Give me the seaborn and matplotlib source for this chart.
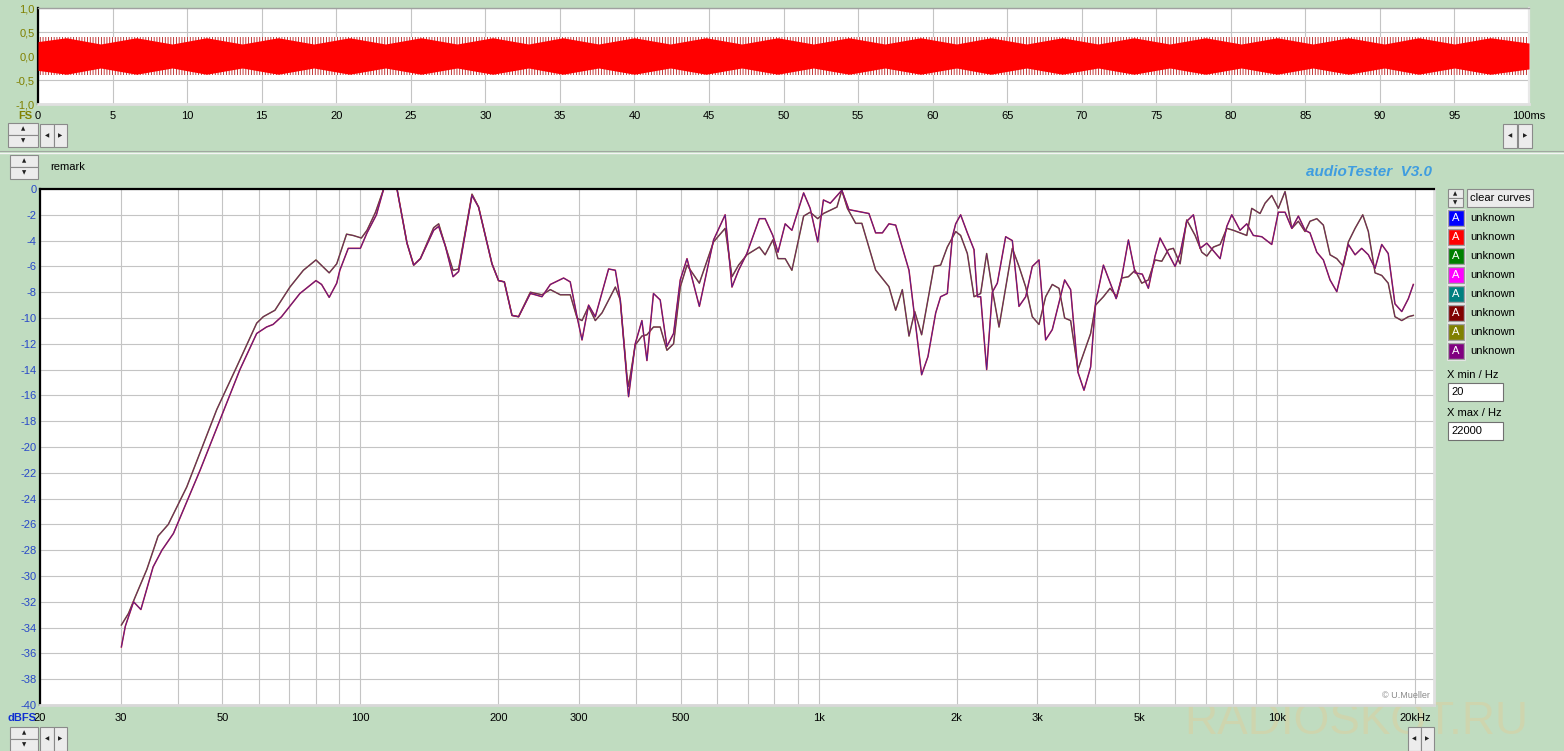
"""
audioTester V3.0 screenshot: waveform strip on top, frequency response below
(two measurements, each drawn as two nearly coincident traces).
"""
import matplotlib

matplotlib.use("Agg")
import matplotlib.pyplot as plt
import pandas as pd
import seaborn as sns
from matplotlib.lines import Line2D
from matplotlib.patches import Rectangle
from matplotlib.ticker import NullFormatter

W, H = 1564, 751
BG = "#c0dcc0"
GRID = "#c4c4c4"

# ---- waveform strip (envelope) -------------------------------------------- #
wave_t = [0.0, 1.9, 4.2, 6.6, 9.0, 11.3, 13.7, 16.1, 18.5, 20.9, 23.3, 25.7,
          28.1, 30.5, 32.9, 35.2, 37.6, 40.0, 42.4, 44.8, 47.2, 49.6, 52.0,
          54.4, 56.8, 59.2, 61.6, 63.9, 66.3, 68.7, 71.1, 73.5, 75.9, 78.3,
          80.7, 83.1, 85.5, 87.9, 90.3, 92.6, 95.0, 97.4, 100.0]
wave_inner = [0.30, 0.38, 0.25, 0.38, 0.25, 0.38, 0.25, 0.38, 0.25, 0.38, 0.25,
              0.38, 0.25, 0.38, 0.25, 0.38, 0.25, 0.38, 0.25, 0.38, 0.25, 0.38,
              0.25, 0.38, 0.25, 0.38, 0.25, 0.38, 0.25, 0.38, 0.25, 0.38, 0.25,
              0.38, 0.25, 0.38, 0.25, 0.38, 0.25, 0.38, 0.25, 0.38, 0.27]
WAVE_PEAK = 0.40
wave_xticks = [0, 5, 10, 15, 20, 25, 30, 35, 40, 45, 50, 55, 60, 65, 70, 75,
               80, 85, 90, 95, 100]
wave_xlabels = ["0", "5", "10", "15", "20", "25", "30", "35", "40", "45", "50",
                "55", "60", "65", "70", "75", "80", "85", "90", "95", "100ms"]
wave_yticks = [-1.0, -0.5, 0.0, 0.5, 1.0]
wave_ylabels = ["-1,0", "-0,5", "0,0", "0,5", "1,0"]

# ---- frequency response: curve A (lower in the bass) ---------------------- #
freq_a = [30.1, 30.7, 32.0, 33.2, 35.3, 36.9, 39.1, 44.7, 49.4, 54.6,
          59.4, 62.4, 64.5, 67.3, 73.8, 80.0, 82.3, 85.5, 88.8, 90.2,
          94.1, 100.0, 103.4, 108.4, 112.4, 120.2, 126.4, 130.7, 135.2, 144.5,
          148.2, 153.2, 159.3, 163.8, 175.2, 181.1, 193.7, 200.2, 206.1, 214.2,
          221.4, 234.9, 240.8, 249, 259.7, 277.6, 287, 297, 304.5, 314.7,
          325.5, 348, 360, 369, 381.6, 384.7, 397.8, 411.4, 421.9, 436,
          451, 466.5, 482.3, 498.8, 516, 549, 589.6, 625, 646.8, 668.6,
          697, 742, 764, 794, 815, 845, 874, 927, 958, 995,
          1024, 1060, 1123, 1164, 1287, 1331, 1377, 1423, 1472, 1574,
          1677, 1731, 1800, 1845, 1908, 1957, 1990, 2040, 2110, 2182,
          2219, 2256, 2325, 2392, 2453, 2558, 2645, 2735, 2829, 2924,
          3024, 3127, 3233, 3440, 3545, 3678, 3791, 3920, 4019, 4180,
          4456, 4585, 4739, 4901, 5081, 5239, 5418, 5556, 5991, 6144,
          6353, 6569, 6794, 7027, 7512, 7769, 7966, 8304, 8588, 8877,
          9261, 9737, 10065, 10410, 10770, 11130, 11510, 11800, 12210, 12620,
          13050, 13500, 13950, 14310, 14800, 15300, 15820, 16360, 16920, 17480,
          18080, 18710, 19340, 19830]
level_a = [-35.5, -33.9, -32.0, -32.6, -29.3, -28.0, -26.7, -21.8, -17.9, -14.0,
           -11.2, -10.7, -10.5, -9.9, -8.1, -7.1, -7.4, -8.4, -7.3, -6.3,
           -4.6, -4.6, -3.4, -2.0, 0.0, 0.0, -4.2, -5.9, -5.4, -3.2,
           -2.9, -4.4, -6.8, -6.4, -0.5, -1.4, -5.8, -7.1, -7.2, -9.8,
           -9.9, -8.1, -8.2, -8.35, -7.4, -6.9, -7.2, -9.9, -11.7, -9.0,
           -9.9, -6.2, -6.3, -8.6, -14.8, -16.1, -12.0, -10.2, -13.3, -8.1,
           -8.6, -12.2, -11.2, -7.05, -5.4, -9.1, -3.95, -2.0, -7.6, -6.3,
           -5.0, -2.3, -2.3, -3.6, -4.9, -2.7, -3.2, -0.3, -1.5, -4.1,
           -0.85, -1.1, -0.1, -1.6, -1.9, -3.4, -3.4, -2.7, -2.8, -6.3,
           -14.4, -13.0, -9.6, -8.35, -8.1, -3.7, -2.7, -2.0, -3.4, -4.7,
           -8.35, -8.35, -14.0, -8.0, -7.3, -3.7, -4.0, -9.1, -8.35, -6.0,
           -5.5, -11.7, -10.9, -7.05, -7.8, -14.2, -15.6, -13.8, -8.8, -5.9,
           -8.5, -6.8, -3.95, -6.5, -6.6, -7.7, -5.2, -3.8, -6.0, -5.0,
           -2.5, -2.0, -4.6, -4.2, -5.4, -2.9, -2.0, -3.2, -2.7, -3.6,
           -3.7, -4.3, -1.8, -1.8, -3.05, -2.1, -3.2, -3.4, -4.9, -5.5,
           -7.05, -7.96, -5.8, -4.3, -5.1, -4.6, -5.1, -6.15, -4.3, -5.0,
           -8.9, -9.5, -8.5, -7.4]

# ---- frequency response: curve B (upper in the bass) ---------------------- #
freq_b = [30.1, 31.2, 32.2, 34.2, 36.2, 38.1, 41.8, 48.6, 53.7, 59.4,
          61.4, 65.1, 70.2, 75.1, 80.0, 85.5, 88.8, 93.3, 96.4, 100.5,
          103.4, 107.9, 112.4, 120.2, 126.4, 130.7, 135.2, 144.5, 148.2, 153.2,
          159.3, 163.8, 175.2, 181.1, 193.7, 200.2, 206.1, 214.2, 221.4, 234.9,
          249, 259.7, 273, 287, 297, 304.5, 314.7, 325.5, 336.7, 360,
          369, 381.6, 384.7, 397.8, 411.4, 421.9, 436, 451, 466.5, 482.3,
          498.8, 516, 549, 589.6, 625, 646.8, 668.6, 697, 742, 764,
          794, 815, 845, 874, 927, 958, 995, 1024, 1096, 1123,
          1155, 1204, 1242, 1331, 1423, 1472, 1522, 1574, 1620, 1677,
          1784, 1845, 1908, 1990, 2040, 2110, 2182, 2256, 2325, 2392,
          2474, 2645, 2735, 2829, 2924, 3024, 3127, 3233, 3344, 3440,
          3545, 3678, 3920, 4019, 4180, 4322, 4471, 4585, 4739, 4901,
          5068, 5239, 5418, 5604, 5793, 5940, 6144, 6353, 6626, 6853,
          7027, 7264, 7512, 7769, 8029, 8304, 8588, 8806, 9182, 9415,
          9737, 10065, 10410, 10770, 11130, 11510, 11800, 12210, 12620, 13050,
          13500, 13950, 14310, 14800, 15380, 15820, 16360, 16920, 17480, 18080,
          18710, 19340, 19830]
level_b = [-33.8, -32.9, -31.7, -29.5, -26.9, -26.0, -23.1, -17.1, -13.8, -10.4,
           -9.9, -9.4, -7.6, -6.3, -5.5, -6.5, -5.8, -3.5, -3.6, -3.8,
           -3.2, -1.8, 0.0, 0.0, -4.2, -5.9, -5.4, -3.0, -2.7, -4.4,
           -6.3, -6.2, -0.4, -1.4, -5.8, -7.1, -7.2, -9.8, -9.9, -8.0,
           -8.2, -7.8, -8.2, -8.2, -10.0, -10.2, -9.1, -10.2, -9.6, -7.6,
           -8.6, -14.5, -15.3, -12.1, -11.4, -11.3, -10.7, -10.7, -12.5, -12.0,
           -7.6, -5.9, -7.3, -4.1, -3.05, -6.8, -5.9, -5.1, -4.5, -5.1,
           -3.95, -5.4, -5.4, -6.3, -2.1, -1.8, -2.3, -1.9, -1.4, -0.1,
           -1.5, -2.66, -2.66, -6.28, -7.57, -9.4, -7.8, -11.4, -9.5, -11.3,
           -6.0, -5.9, -4.5, -3.3, -3.6, -5.0, -8.35, -8.1, -5.0, -7.8,
           -10.7, -4.6, -6.0, -7.6, -9.9, -10.5, -8.35, -7.4, -7.7, -10.0,
           -10.2, -14.0, -11.2, -9.0, -8.35, -7.7, -8.35, -6.9, -6.8, -6.3,
           -7.3, -7.05, -5.5, -5.6, -4.7, -4.6, -5.8, -2.4, -3.6, -4.9,
           -5.2, -4.5, -4.3, -3.05, -3.2, -3.4, -3.6, -1.5, -1.9, -1.1,
           -0.5, -1.5, -0.2, -3.05, -2.5, -3.3, -2.5, -2.3, -2.8, -5.1,
           -5.4, -6.0, -4.1, -3.05, -2.0, -3.3, -6.5, -6.7, -7.3, -9.9,
           -10.2, -9.9, -9.8]

grid_freqs = [30, 40, 50, 60, 70, 80, 90, 100, 200, 300, 400, 500, 600, 700,
              800, 900, 1000, 2000, 3000, 4000, 5000, 6000, 7000, 8000, 9000,
              10000, 20000]
label_freqs = [20, 30, 50, 100, 200, 300, 500, 1000, 2000, 3000, 5000, 10000,
               20000]
label_texts = ["20", "30", "50", "100", "200", "300", "500", "1k", "2k", "3k",
               "5k", "10k", "20kHz"]
db_ticks = list(range(-40, 1, 2))

legend_colors = ["#0000ff", "#ff0000", "#008000", "#ff00ff", "#008080",
                 "#800000", "#808000", "#800080"]
legend_names = ["unknown"] * 8

plt.rcParams["font.family"] = ["Liberation Sans", "DejaVu Sans"]
plt.rcParams["axes.unicode_minus"] = False
plt.rcParams["hatch.linewidth"] = 0.6

fig = plt.figure(figsize=(W / 100, H / 100), dpi=100, facecolor=BG)


def fx(px):
    return px / W


def fy(py):
    return 1 - py / H


def box(x0, y0, x1, y1, face="#ececec", edge="#8a8a8a", lw=0.8):
    fig.add_artist(Rectangle((fx(x0), fy(y1)), fx(x1) - fx(x0), fy(y0) - fy(y1),
                             transform=fig.transFigure, facecolor=face,
                             edgecolor=edge, lw=lw))


def text(px, py, s, **kw):
    kw.setdefault("fontsize", 8)
    kw.setdefault("va", "center")
    return fig.text(fx(px), fy(py), s, **kw)


def glyph(px, py, s):
    text(px, py, s, fontsize=4, ha="center", family="DejaVu Sans", color="#202020")


def spinner(x0, y0, x1, y1):
    ym = (y0 + y1) / 2
    box(x0, y0, x1, ym)
    box(x0, ym, x1, y1)
    glyph((x0 + x1) / 2, (y0 + ym) / 2, "▲")
    glyph((x0 + x1) / 2, (ym + y1) / 2, "▼")


def arrows(x0, y0, x1, y1):
    xm = (x0 + x1) / 2
    box(x0, y0, xm, y1)
    box(xm, y0, x1, y1)
    glyph((x0 + xm) / 2, (y0 + y1) / 2, "◀")
    glyph((xm + x1) / 2, (y0 + y1) / 2, "▶")


# ---- watermark, drawn first so the axes and labels sit on top ------------ #
text(1356, 722, "RADIOSKOT.RU", ha="center", fontsize=33, color="#d2d4aa",
     alpha=0.8, zorder=-5)

# ---- top panel: waveform ------------------------------------------------- #
ax_w = fig.add_axes([fx(38), fy(104), fx(1529) - fx(38), fy(8) - fy(104)])
ax_w.set_facecolor("white")
ax_w.fill_between(wave_t, -WAVE_PEAK, WAVE_PEAK, facecolor="white",
                  edgecolor="#b81818", hatch="||||||", linewidth=0, zorder=2)
ax_w.fill_between(wave_t, [-v for v in wave_inner], wave_inner, color="#ff0000",
                  linewidth=0, zorder=3)
ax_w.set_xlim(0, 100)
ax_w.set_ylim(-1, 1)
ax_w.set_xticks(wave_xticks)
ax_w.set_xticklabels(wave_xlabels)
ax_w.set_yticks(wave_yticks)
ax_w.set_yticklabels(wave_ylabels, color="#808000")
ax_w.tick_params(length=0, labelsize=8, pad=2.5)
ax_w.tick_params(axis="x", pad=5)
ax_w.grid(True, color=GRID, lw=0.8, zorder=0)
ax_w.set_axisbelow(True)
for side, (col, lw) in {"left": ("black", 1.6), "top": ("#a0a0a0", 1.0),
                        "right": ("#e8e8e8", 1.6), "bottom": ("#e0e0e0", 2.0)}.items():
    ax_w.spines[side].set_color(col)
    ax_w.spines[side].set_linewidth(lw)

text(25, 116, "FS", ha="center", weight="bold", color="#808000")
spinner(8, 123, 38, 147)
arrows(40, 124, 67, 147)
arrows(1503, 124, 1532, 148)
fig.add_artist(Line2D([0, 1], [fy(151), fy(151)], transform=fig.transFigure,
                      color="#a0a8a0", lw=0.8))
fig.add_artist(Line2D([0, 1], [fy(152.5), fy(152.5)], transform=fig.transFigure,
                      color="#f4f4f4", lw=1.0))

# ---- main panel: frequency response -------------------------------------- #
ax = fig.add_axes([fx(40), fy(705), fx(1434) - fx(40), fy(189) - fy(705)])
ax.set_facecolor("white")
ax.set_xscale("log")

df_a = pd.DataFrame({"freq": freq_a, "level": level_a})
df_b = pd.DataFrame({"freq": freq_b, "level": level_b})
traces = [(df_b, "#8c7c30", 1.1), (df_b, "#6a2068", 0.7),
          (df_a, "#e82030", 1.1), (df_a, "#4e2090", 0.7)]
for df, col, lw in traces:
    sns.lineplot(data=df, x="freq", y="level", ax=ax, estimator=None,
                 sort=False, color=col, linewidth=lw)

ax.set_xlim(20, 22000)
ax.set_ylim(-40, 0)
ax.set_xlabel("")
ax.set_ylabel("")
ax.set_xticks(label_freqs)
ax.set_xticklabels(label_texts)
ax.set_xticks(grid_freqs, minor=True)
ax.xaxis.set_minor_formatter(NullFormatter())
ax.set_yticks(db_ticks)
ax.set_yticklabels([str(v) for v in db_ticks], color="#2848c8")
ax.tick_params(which="both", length=0, labelsize=8)
ax.tick_params(axis="y", pad=2.5)
ax.tick_params(axis="x", pad=6)
ax.grid(True, which="both", color=GRID, lw=0.8)
ax.set_axisbelow(True)
for side, (col, lw) in {"left": ("black", 1.6), "top": ("black", 1.6),
                        "right": ("#e0e0e0", 2.0), "bottom": ("#d8d8d8", 2.0)}.items():
    ax.spines[side].set_color(col)
    ax.spines[side].set_linewidth(lw)

text(8, 718, "dBFS", weight="bold", color="#1030d0")
text(1430, 696, "© U.Mueller", ha="right", fontsize=6.5, color="#8a8a8a")
text(50, 167, "remark")
text(1432, 172, "audioTester  V3.0", ha="right", fontsize=11, style="italic",
     weight="bold", color="#3f9de0")
spinner(10, 155, 38, 179)
spinner(10, 727, 38, 751)
arrows(40, 727, 67, 751)
arrows(1408, 727, 1434, 751)

# ---- right side controls ------------------------------------------------- #
spinner(1448, 189, 1463, 207)
box(1467, 189, 1533, 207)
text(1500, 198, "clear curves", ha="center")
for i, (col, name) in enumerate(zip(legend_colors, legend_names)):
    yc = 218 + 19 * i
    box(1447, yc - 9, 1465, yc + 9, face="#9c9c9c", edge="#e4e4e4", lw=0.8)
    box(1449, yc - 7, 1463, yc + 7, face=col, edge=col, lw=0.4)
    text(1456, yc, "A", ha="center", color="white", fontsize=8)
    text(1470, yc, name)

text(1447, 375, "X min / Hz")
box(1448, 383, 1503, 401, face="white", edge="#707070")
text(1451, 392, "20")
text(1447, 413, "X max / Hz")
box(1448, 422, 1503, 440, face="white", edge="#707070")
text(1451, 431, "22000")

fig.savefig("out.png", dpi=100, facecolor=BG)
